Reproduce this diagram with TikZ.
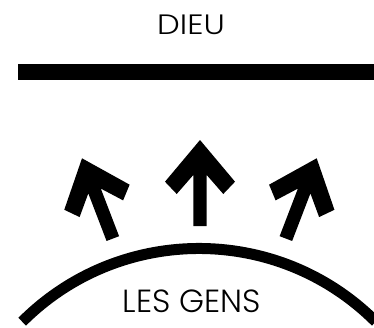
\documentclass[tikz,border=0pt]{standalone}
\usepackage{fontspec}
\usepackage{graphicx}
\setmainfont{Poppins}[UprightFont=* Light]
\begin{document}
\begin{tikzpicture}[x=1pt,y=1pt,
  label text/.style={inner sep=0pt, anchor=base, text=black},
  uparrow/.pic={
    \fill[black] (0,0) -- (35,-41.7) -- (23.3,-54) -- (6.7,-35) -- (6.7,-86)
      -- (-6.7,-86) -- (-6.7,-35) -- (-23.3,-54) -- (-35,-41.7) -- cycle;
  }]
  \useasboundingbox (0,0) rectangle (374,327);
  \clip (0,0) rectangle (374,327);

  % God above, a heavy ceiling bar
  \node[label text, font=\fontsize{28}{32}\selectfont] (dieu) at (191,292) {\scalebox{1.15}[1]{DIEU}};
  \fill[black] (18,247) rectangle (380,263);

  % people below, under a curved arc
  \draw[black, line width=11pt] (22.2,5.3) arc[start angle=135, end angle=45, radius=250];
  \node[label text, font=\fontsize{32}{36}\selectfont] (gens) at (192,15) {LES GENS};

  % three arrows reaching upward
  \pic[rotate=21] at (82,168.7) {uparrow};
  \pic at (200,187) {uparrow};
  \pic[rotate=-21] at (316.7,168.7) {uparrow};
\end{tikzpicture}
\end{document}
